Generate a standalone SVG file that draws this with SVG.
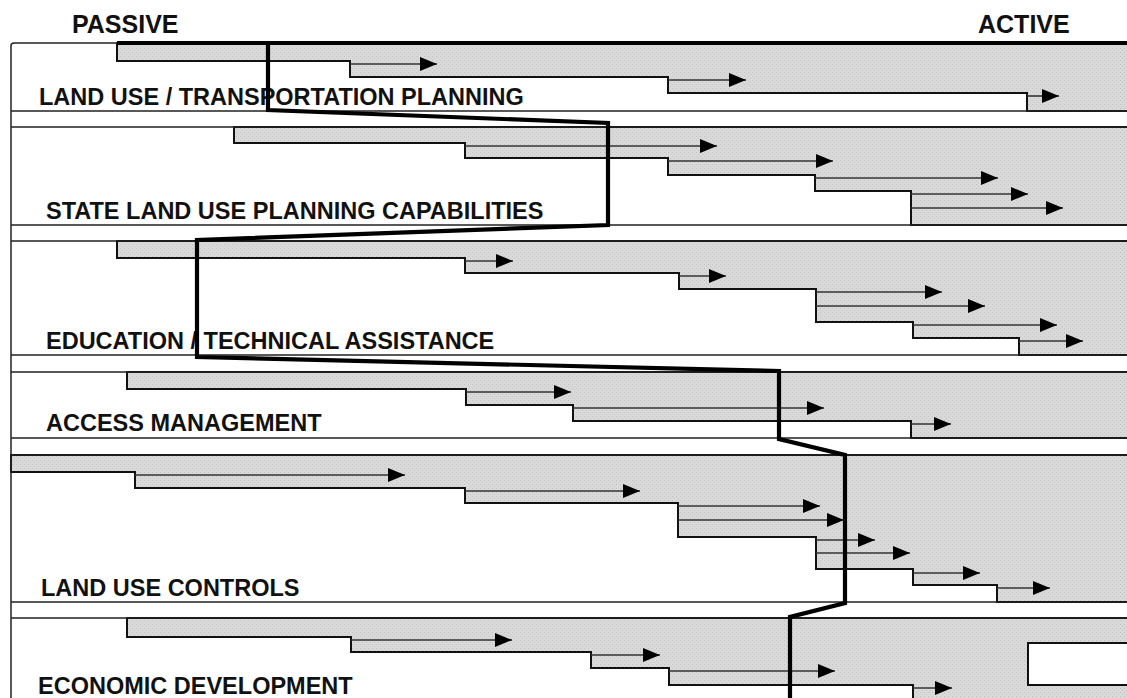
<svg xmlns="http://www.w3.org/2000/svg" width="1127" height="698" viewBox="0 0 1127 698">
  <defs>
    <!-- fine stipple used for the shaded step regions -->
    <pattern id="stipple" width="4" height="4" patternUnits="userSpaceOnUse">
      <rect width="4" height="4" fill="#d9d9d9"/>
      <rect x="0" y="0" width="1" height="1" fill="#c2c2c2"/>
      <rect x="2" y="2" width="1" height="1" fill="#c8c8c8"/>
    </pattern>
    <marker id="head" markerUnits="userSpaceOnUse" markerWidth="18" markerHeight="14" refX="17" refY="7" orient="auto">
      <path d="M0,0 L17,7 L0,14 Z" fill="#000"/>
    </marker>
    <style>
      .rule { stroke: #222; stroke-width: 1.5; fill: none; }
      .stair { stroke: #111; stroke-width: 2; fill: url(#stipple); stroke-linejoin: miter; }
      .arrow { stroke: #333; stroke-width: 1.6; fill: none; marker-end: url(#head); }
      .profile { stroke: #000; stroke-width: 4.2; fill: none; stroke-linejoin: miter; }
      .label { font-family: "Liberation Sans", Arial, Helvetica, sans-serif; font-weight: bold; font-size: 23.5px; fill: #111; }
      .axis { font-family: "Liberation Sans", Arial, Helvetica, sans-serif; font-weight: bold; font-size: 25px; fill: #111; }
      .box { fill: #fff; stroke: #111; stroke-width: 2; }
    </style>
  </defs>

  <rect width="1127" height="698" fill="#fff"/>

  <!-- axis headings -->
  <text class="axis" x="72" y="33">PASSIVE</text>
  <text class="axis" x="978" y="33">ACTIVE</text>

  <!-- one group per category band: shaded staircase + label -->
  <g id="land-use-transportation-planning">
    <polygon class="stair" points="117,43 117,61 350,61 350,77 668,77 668,93 1027,93 1027,111 1132,111 1132,43"/>
    <text class="label" x="39" y="105">LAND USE / TRANSPORTATION PLANNING</text>
  </g>

  <g id="state-land-use-planning-capabilities">
    <polygon class="stair" points="234,127 234,143 465,143 465,158 668,158 668,175 815,175 815,191 911,191 911,225 1132,225 1132,127"/>
    <text class="label" x="46" y="219">STATE LAND USE PLANNING CAPABILITIES</text>
  </g>

  <g id="education-technical-assistance">
    <polygon class="stair" points="117,241 117,258 465,258 465,273 679,273 679,289 816,289 816,322 913,322 913,338 1019,338 1019,355 1132,355 1132,241"/>
    <text class="label" x="46" y="349">EDUCATION / TECHNICAL ASSISTANCE</text>
  </g>

  <g id="access-management">
    <polygon class="stair" points="127,372 127,389 466,389 466,405 573,405 573,421 911,421 911,438 1132,438 1132,372"/>
    <text class="label" x="46" y="431">ACCESS MANAGEMENT</text>
  </g>

  <g id="land-use-controls">
    <polygon class="stair" points="11,455 11,472 135,472 135,488 465,488 465,503 678,503 678,537 816,537 816,569 913,569 913,585 997,585 997,602 1132,602 1132,455"/>
    <text class="label" x="41" y="596">LAND USE CONTROLS</text>
  </g>

  <g id="economic-development">
    <polygon class="stair" points="127,618 127,637 351,637 351,652 591,652 591,668 669,668 669,685 913,685 913,705 1132,705 1132,618"/>
    <rect class="box" x="1028" y="643" width="110" height="42"/>
    <text class="label" x="38" y="694">ECONOMIC DEVELOPMENT</text>
  </g>

  <!-- frame and band rules -->
  <g id="frame">
    <path class="rule" d="M11,698 V46 Q11,43 14,43 H1127"/>
    <path class="rule" d="M11,111 H1127 M11,127 H1127 M11,225 H1127 M11,241 H1127 M11,355 H1127 M11,372 H1127 M11,438 H1127 M11,455 H1127 M11,602 H1127 M11,618 H1127"/>
  </g>

  <!-- step arrows -->
  <g id="connectors">
    <line class="arrow" x1="350" y1="64" x2="437" y2="64"/>
    <line class="arrow" x1="668" y1="80" x2="746" y2="80"/>
    <line class="arrow" x1="1027" y1="96" x2="1059" y2="96"/>

    <line class="arrow" x1="465" y1="146" x2="717" y2="146"/>
    <line class="arrow" x1="668" y1="161" x2="833" y2="161"/>
    <line class="arrow" x1="815" y1="178" x2="998" y2="178"/>
    <line class="arrow" x1="911" y1="194" x2="1028" y2="194"/>
    <line class="arrow" x1="911" y1="208" x2="1063" y2="208"/>

    <line class="arrow" x1="465" y1="261" x2="513" y2="261"/>
    <line class="arrow" x1="679" y1="276" x2="726" y2="276"/>
    <line class="arrow" x1="816" y1="292" x2="942" y2="292"/>
    <line class="arrow" x1="816" y1="306" x2="985" y2="306"/>
    <line class="arrow" x1="913" y1="325" x2="1057" y2="325"/>
    <line class="arrow" x1="1019" y1="341" x2="1083" y2="341"/>

    <line class="arrow" x1="466" y1="392" x2="571" y2="392"/>
    <line class="arrow" x1="573" y1="408" x2="824" y2="408"/>
    <line class="arrow" x1="911" y1="424" x2="951" y2="424"/>

    <line class="arrow" x1="135" y1="475" x2="405" y2="475"/>
    <line class="arrow" x1="465" y1="491" x2="640" y2="491"/>
    <line class="arrow" x1="678" y1="506" x2="820" y2="506"/>
    <line class="arrow" x1="678" y1="520" x2="844" y2="520"/>
    <line class="arrow" x1="816" y1="540" x2="875" y2="540"/>
    <line class="arrow" x1="816" y1="553" x2="910" y2="553"/>
    <line class="arrow" x1="913" y1="573" x2="980" y2="573"/>
    <line class="arrow" x1="997" y1="588" x2="1050" y2="588"/>

    <line class="arrow" x1="351" y1="640" x2="512" y2="640"/>
    <line class="arrow" x1="591" y1="655" x2="660" y2="655"/>
    <line class="arrow" x1="669" y1="671" x2="835" y2="671"/>
    <line class="arrow" x1="913" y1="688" x2="952" y2="688"/>
  </g>

  <!-- heavy profile line across the bands -->
  <g id="profile">
    <path class="profile" d="M117,43 H1130"/>
    <polyline class="profile" points="268,43 268,110 608,123 608,225 197,240 197,357 779,371 779,439 845,455 845,603 790,617 790,702"/>
  </g>
</svg>
